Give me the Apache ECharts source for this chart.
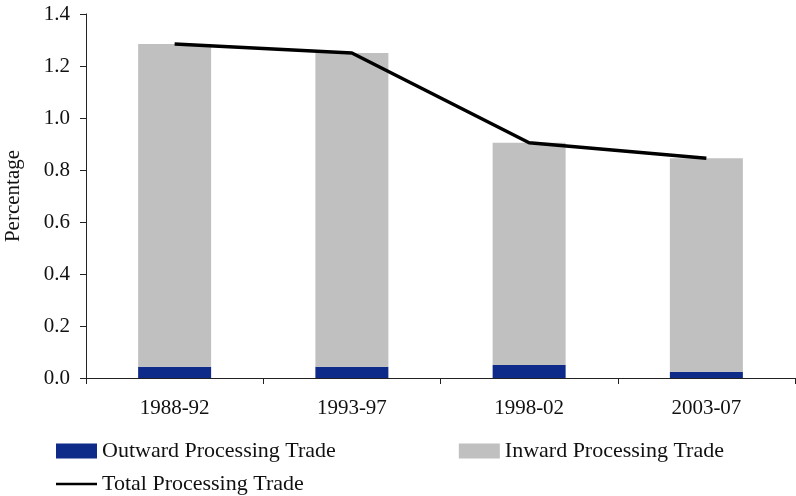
<!DOCTYPE html>
<html>
<head>
<meta charset="utf-8">
<script src="https://cdn.jsdelivr.net/npm/echarts@6/dist/echarts.min.js"></script>
<style>
html, body { margin: 0; padding: 0; background: #fff; }
#chart { width: 796px; height: 496px; }
</style>
</head>
<body>
<div id="chart"></div>
<script>
// periods on the x axis
const periods = ['1988-92', '1993-97', '1998-02', '2003-07'];
// shares, in percent
const outwardValues = [0.043, 0.043, 0.05, 0.024];
const inwardValues = [1.242, 1.207, 0.855, 0.821];
const totalValues = [1.285, 1.25, 0.905, 0.845];
const yTicks = [0, 0.2, 0.4, 0.6, 0.8, 1.0, 1.2, 1.4];

const fontFamily = 'Liberation Serif, DejaVu Serif, serif';
const chart = echarts.init(document.getElementById('chart'));

const legendText = { fontFamily: fontFamily, fontSize: 22, color: '#111' };

const option = {
	animation: false,
	textStyle: { fontFamily: fontFamily },
	grid: { left: 86, right: 1, top: 14, bottom: 118, outerBoundsMode: 'none', containLabel: false },
	legend: [
		{
			left: 56,
			top: 440,
			padding: 0,
			itemWidth: 41,
			itemHeight: 15,
			itemGap: 123,
			textStyle: legendText,
			data: [
				{ name: 'Outward Processing Trade', icon: 'rect' },
				{ name: 'Inward Processing Trade', icon: 'rect' }
			]
		},
		{
			left: 56,
			top: 473,
			padding: 0,
			itemWidth: 41,
			itemHeight: 15,
			textStyle: legendText,
			data: [
				{ name: 'Total Processing Trade', icon: 'path://M0,6.2L41,6.2L41,8.8L0,8.8Z' }
			]
		}
	],
	xAxis: {
		type: 'category',
		data: periods,
		axisLine: { lineStyle: { color: '#222', width: 1 } },
		axisTick: { show: true, length: 6, lineStyle: { color: '#222' } },
		axisLabel: { color: '#111', fontSize: 21, margin: 20 }
	},
	yAxis: {
		type: 'value',
		min: yTicks[0],
		max: yTicks[yTicks.length - 1],
		interval: 0.2,
		name: 'Percentage',
		nameLocation: 'middle',
		nameGap: 62,
		nameTextStyle: { color: '#111', fontSize: 21, fontFamily: fontFamily },
		axisLine: { show: true, lineStyle: { color: '#222', width: 1 } },
		axisTick: { show: true, length: 6, lineStyle: { color: '#222' } },
		axisLabel: {
			color: '#111',
			fontSize: 21,
			margin: 16,
			formatter: v => v.toFixed(1)
		},
		splitLine: { show: false }
	},
	series: [
		{
			name: 'Outward Processing Trade',
			type: 'bar',
			stack: 'trade',
			barWidth: 73,
			itemStyle: { color: '#0f2b8a' },
			data: outwardValues
		},
		{
			name: 'Inward Processing Trade',
			type: 'bar',
			stack: 'trade',
			barWidth: 73,
			itemStyle: { color: '#c0c0c0' },
			data: inwardValues
		},
		{
			name: 'Total Processing Trade',
			type: 'line',
			symbol: 'none',
			lineStyle: { color: '#000', width: 3.5 },
			itemStyle: { color: '#000' },
			data: totalValues
		}
	]
};
chart.setOption(option);
</script>
</body>
</html>
